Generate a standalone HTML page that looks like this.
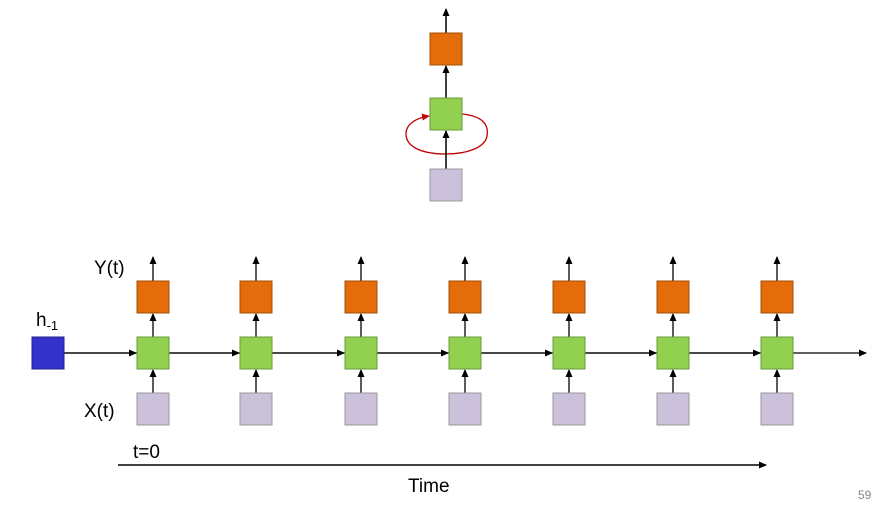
<!DOCTYPE html>
<html><head><style>body{margin:0;background:#fff}svg{display:block}text{font-family:"Liberation Sans",sans-serif}</style></head><body>
<svg width="890" height="508" viewBox="0 0 890 508">
<defs>
<marker id="a" markerWidth="8" markerHeight="8" refX="7" refY="4" orient="auto" markerUnits="userSpaceOnUse"><path d="M0,0.5 L8,4 L0,7.5z" fill="#000"/></marker>
<marker id="r" markerWidth="8" markerHeight="8" refX="7" refY="4" orient="auto" markerUnits="userSpaceOnUse"><path d="M0,0.5 L8,4 L0,7.5z" fill="#c00000"/></marker>
</defs>
<path d="M462,114 C482,116 489,124 487,136 C485,148 466,154 446,154 C420,154 406,146 406,134 C406,124 416,118 429,116" stroke="#c00000" stroke-width="1.3" fill="none" marker-end="url(#r)"/>
<g stroke="#000" stroke-width="1.5" fill="none">
<line x1="446" y1="33" x2="446" y2="9" marker-end="url(#a)"/>
<line x1="446" y1="98" x2="446" y2="66" marker-end="url(#a)"/>
<line x1="446" y1="169" x2="446" y2="131" marker-end="url(#a)"/>
</g>
<rect x="430" y="33" width="32" height="32" fill="#e46c0a" stroke="#a0500a"/>
<rect x="430" y="98" width="32" height="32" fill="#92d050" stroke="#6a9a3a"/>
<rect x="430" y="169" width="32" height="32" fill="#ccc1da" stroke="#999"/>
<line x1="64" y1="353" x2="866" y2="353" stroke="#000" stroke-width="1.3" marker-end="url(#a)"/>
<g stroke="#000" stroke-width="1.3">
<line x1="64" y1="353" x2="136" y2="353" marker-end="url(#a)"/>
<line x1="169" y1="353" x2="239" y2="353" marker-end="url(#a)"/>
<line x1="272" y1="353" x2="344" y2="353" marker-end="url(#a)"/>
<line x1="377" y1="353" x2="448" y2="353" marker-end="url(#a)"/>
<line x1="481" y1="353" x2="552" y2="353" marker-end="url(#a)"/>
<line x1="585" y1="353" x2="656" y2="353" marker-end="url(#a)"/>
<line x1="689" y1="353" x2="760" y2="353" marker-end="url(#a)"/>
</g>
<rect x="32" y="337" width="32" height="32" fill="#3333cc" stroke="#222288"/>
<g id="c">
<g stroke="#000" stroke-width="1.3">
<line x1="153" y1="281" x2="153" y2="257" marker-end="url(#a)"/>
<line x1="153" y1="337" x2="153" y2="314" marker-end="url(#a)"/>
<line x1="153" y1="393" x2="153" y2="370" marker-end="url(#a)"/>
</g>
<rect x="137" y="281" width="32" height="32" fill="#e46c0a" stroke="#a0500a"/>
<rect x="137" y="337" width="32" height="32" fill="#92d050" stroke="#6a9a3a"/>
<rect x="137" y="393" width="32" height="32" fill="#ccc1da" stroke="#999"/>
</g>
<use href="#c" x="103"/><use href="#c" x="208"/><use href="#c" x="312"/><use href="#c" x="416"/><use href="#c" x="520"/><use href="#c" x="624"/>
<line x1="118" y1="465" x2="766" y2="465" stroke="#000" stroke-width="1.5" marker-end="url(#a)"/>
<text x="94" y="274" font-size="19">Y(t)</text>
<text x="36" y="326" font-size="19">h<tspan font-size="13" dy="4">-1</tspan></text>
<text x="84" y="417" font-size="19">X(t)</text>
<text x="133" y="458" font-size="19">t=0</text>
<text x="408" y="492" font-size="19">Time</text>
<text x="858" y="499" font-size="12" fill="#888">59</text>
</svg>
</body></html>
